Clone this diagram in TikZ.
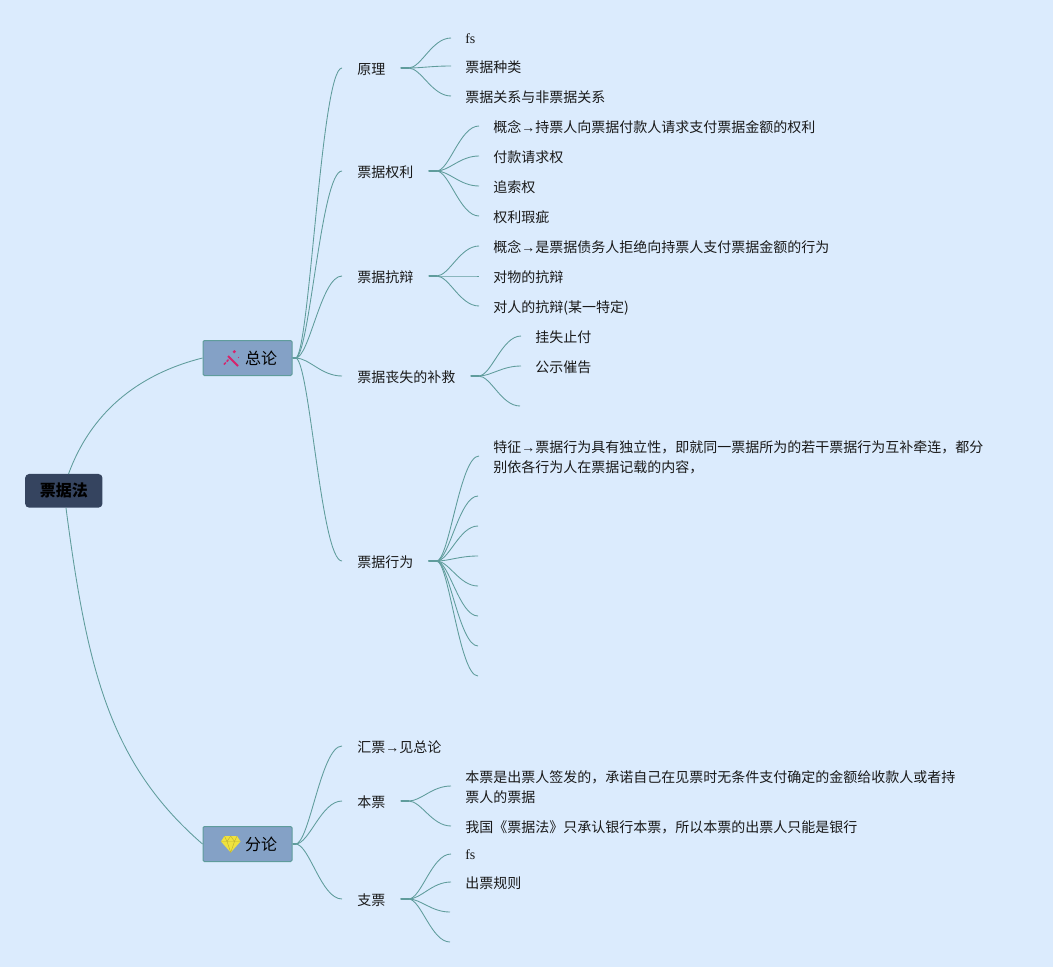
\documentclass[tikz,border=0pt]{standalone}
\usepackage{fontspec}
\usepackage{amsmath}
\setmainfont{Noto Sans CJK SC}
\newfontfamily\latinfont{Liberation Serif}
\usetikzlibrary{calc}

\definecolor{pagebg}{HTML}{DBEBFD}
\definecolor{linkcolor}{HTML}{5F9C9C}
\definecolor{rootfill}{HTML}{35445F}
\definecolor{mainfill}{HTML}{84A1C6}

\tikzset{
  link/.style={draw=linkcolor,line width=0.65pt},
  stub/.style={draw=linkcolor,line width=1.3pt},
  rootbox/.style={rectangle,rounded corners=3pt,fill=rootfill,minimum width=58pt,minimum height=25.25pt,inner sep=0pt,font=\fontsize{12}{14}\selectfont\bfseries,text=black},
  mainbox/.style={rectangle,rounded corners=1pt,fill=mainfill,draw=linkcolor,line width=0.75pt,minimum width=66.75pt,minimum height=26.25pt,inner sep=0pt,font=\fontsize{12}{14}\selectfont,text=black},
  subtext/.style={anchor=west,inner xsep=11.25pt,inner ysep=0pt,text height=10.5pt,text depth=1.1pt,font=\fontsize{10.5}{15}\selectfont,text=black!90},
  leaf/.style={anchor=west,inner xsep=10.5pt,inner ysep=0pt,text height=10.5pt,text depth=1.1pt,font=\fontsize{10.5}{15}\selectfont,text=black!90},
  longleaf/.style={anchor=west,inner xsep=10.5pt,inner ysep=0pt,align=left,font=\fontsize{10.5}{15}\selectfont,text=black!90},
}

\newcommand{\fork}[3][8]{%
  \draw[stub] (#2.east) -- ++(#1,0);
  \draw[link] let \p1=($(#2.east)+(#1,0)$), \p2=(#3) in (#2.east) -- (\p1) .. controls (\x1+0.3*\x2-0.3*\x1,\y1) and (\x1+0.55*\x2-0.55*\x1,\y2) .. (\p2);
}

\begin{document}
\begin{tikzpicture}[x=0.75pt,y=0.75pt,yscale=-1,xscale=1]
\useasboundingbox (0,0) rectangle (1053,967);
\fill[pagebg] (0,0) rectangle (1053,967);

% Root Node
\node[rootbox] (fa) at (63.8,490.8) {票据法};

% Main Nodes
\node[mainbox] (zonglun) at (247.5,358) {\hspace*{20.25pt}总论};
\node[mainbox] (fenlun) at (247.5,844) {\hspace*{20.25pt}分论};

% Text Node
\node[subtext] (yuanli) at (342,68) {原理};
\node[subtext] (quanli) at (342,171) {票据权利};
\node[subtext] (kangbian) at (342,276) {票据抗辩};
\node[subtext] (buju) at (342,376) {票据丧失的补救};
\node[subtext] (xingwei) at (342,561) {票据行为};
\node[subtext] (huipiao) at (342,746) {汇票{\latinfont →}见总论};
\node[subtext] (benpiao) at (342,801) {本票};
\node[subtext] (zhipiao) at (342,899) {支票};

% Text Node
\node[leaf] (fsa) at (451,38) {\raisebox{0.6pt}{\latinfont fs}};
\node[leaf] (zhonglei) at (451,66) {票据种类};
\node[leaf] (guanxi) at (451,96) {票据关系与非票据关系};

\node[leaf] (qgainian) at (479,126) {概念{\latinfont →}持票人向票据付款人请求支付票据金额的权利};
\node[leaf] (qingqiu) at (479,156) {付款请求权};
\node[leaf] (zhuisuo) at (479,186) {追索权};
\node[leaf] (xiaci) at (479,216) {权利瑕疵};

\node[leaf] (kgainian) at (479,246) {概念{\latinfont →}是票据债务人拒绝向持票人支付票据金额的行为};
\node[leaf] (duiwu) at (479,276) {对物的抗辩};
\node[leaf] (duiren) at (479,306) {对人的抗辩(某一特定)};

\node[leaf] (guashi) at (521,336) {挂失止付};
\node[leaf] (gongshi) at (521,366) {公示催告};
\coordinate (bujuend) at (520,406);

\node[longleaf] (tezheng) at (479,457.5) {特征{\latinfont →}票据行为具有独立性，即就同一票据所为的若干票据行为互补牵连，都分\\别依各行为人在票据记载的内容，};
\coordinate (xa) at (478,496);
\coordinate (xb) at (478,526);
\coordinate (xc) at (478,556);
\coordinate (xd) at (478,586);
\coordinate (xe) at (478,616);
\coordinate (xf) at (478,646);
\coordinate (xg) at (478,676);

\node[longleaf] (bgainian) at (451,787.5) {本票是出票人签发的，承诺自己在见票时无条件支付确定的金额给收款人或者持\\票人的票据};
\node[leaf] (woguo) at (451,826) {我国《票据法》只承认银行本票，所以本票的出票人只能是银行};

\node[leaf] (fsb) at (451,854) {\raisebox{0.6pt}{\latinfont fs}};
\node[leaf] (guize) at (451,882) {出票规则};
\coordinate (za) at (450,912);
\coordinate (zb) at (450,942);

%Curves
\coordinate (faup) at (68.5,474);
\coordinate (fadown) at (66,508);
\draw[link] (faup) .. controls (90,415) and (135,375) .. (zonglun.west);
\draw[link] (fadown) .. controls (87,668) and (109,763) .. (fenlun.west);

\fork[3]{zonglun}{yuanli.west}
\fork[3]{zonglun}{quanli.west}
\fork[3]{zonglun}{kangbian.west}
\fork[3]{zonglun}{buju.west}
\fork[3]{zonglun}{xingwei.west}

\fork[3]{fenlun}{huipiao.west}
\fork[3]{fenlun}{benpiao.west}
\fork[3]{fenlun}{zhipiao.west}

\fork{yuanli}{fsa.west}
\fork{yuanli}{zhonglei.west}
\fork{yuanli}{guanxi.west}

\fork{quanli}{qgainian.west}
\fork{quanli}{qingqiu.west}
\fork{quanli}{zhuisuo.west}
\fork{quanli}{xiaci.west}

\fork{kangbian}{kgainian.west}
\fork{kangbian}{duiwu.west}
\fork{kangbian}{duiren.west}

\fork{buju}{guashi.west}
\fork{buju}{gongshi.west}
\fork{buju}{bujuend}

\fork{xingwei}{$(tezheng.west)+(0,-1.5)$}
\fork{xingwei}{xa}
\fork{xingwei}{xb}
\fork{xingwei}{xc}
\fork{xingwei}{xd}
\fork{xingwei}{xe}
\fork{xingwei}{xf}
\fork{xingwei}{xg}

\fork{benpiao}{$(bgainian.west)+(0,-1.5)$}
\fork{benpiao}{woguo.west}

\fork{zhipiao}{fsb.west}
\fork{zhipiao}{guize.west}
\fork{zhipiao}{za}
\fork{zhipiao}{zb}

%Wand icon
\draw[line width=1.5pt,color={rgb,255:red,214;green,36;blue,108}] (228,356) -- (238,366);
\draw[line width=1.1pt,color={rgb,255:red,214;green,36;blue,108},dash pattern=on 2pt off 1pt] (224,364.5) -- (230.5,357.5);
\fill[color={rgb,255:red,214;green,36;blue,108}] (234.3,350) -- (236,351.7) -- (234.3,353.4) -- (232.6,351.7) -- cycle;
\fill[color={rgb,255:red,214;green,36;blue,108}] (238.5,357.5) circle (0.5pt);

%Gem icon
\fill[color={rgb,255:red,240;green,226;blue,62}] (224.5,836) -- (237,836) -- (240.5,841.5) -- (230.7,852.5) -- (221,841.5) -- cycle;
\draw[line width=0.35pt,color={rgb,255:red,190;green,178;blue,50}] (221,841.5) -- (240.5,841.5) (227,841.5) -- (230.7,852.5) -- (234.5,841.5) (224.5,836) -- (227,841.5) -- (230.7,836) -- (234.5,841.5) -- (237,836);

\end{tikzpicture}
\end{document}
